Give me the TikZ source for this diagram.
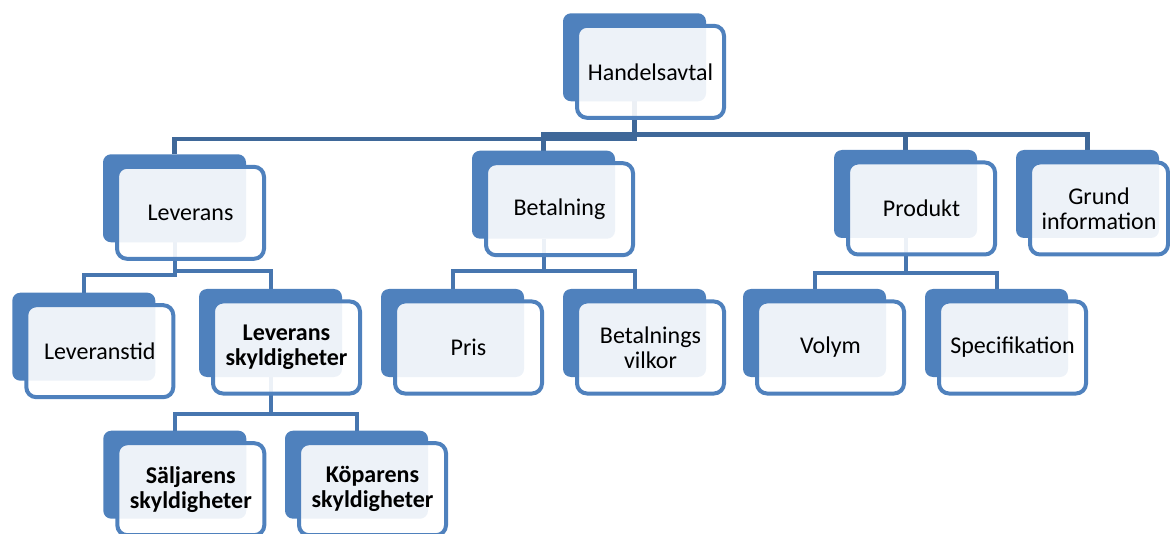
\documentclass[tikz,border=0pt]{standalone}
\usepackage{fontspec}
\setmainfont{Carlito}
\usetikzlibrary{backgrounds}
\definecolor{sablue}{HTML}{4F81BD}
\definecolor{conntop}{HTML}{3F6899}
\definecolor{connlow}{HTML}{4776AF}
\tikzset{
  backbox/.style={fill=sablue, draw=none, rounded corners=6pt,
    minimum width=143*0.75pt, minimum height=88*0.75pt, inner sep=0pt, outer sep=0pt},
  frontbox/.style={fill=white, fill opacity=0.9, text opacity=1, draw=sablue,
    line width=3pt, rounded corners=7.5pt,
    minimum width=147*0.75pt, minimum height=92*0.75pt, inner sep=0pt, outer sep=0pt,
    align=center, font=\fontsize{18}{18.75}\selectfont, text=black},
  boldtext/.style={font=\fontsize{18}{18.75}\selectfont\bfseries},
  connlowline/.style={draw=connlow, line width=3pt},
  conntopline/.style={draw=conntop, line width=3.3pt},
}
\begin{document}
\begin{tikzpicture}[x=0.75pt,y=-0.75pt]
\useasboundingbox (0,0) rectangle (1170,534);
\clip (0,0) rectangle (1170,534);
% level 0
\node[backbox] (H-b) at (634.5,57.3) {};
\node[frontbox] (H) at (650.5,71.8) {Handelsavtal};
% level 1
\node[backbox] (Lev-b) at (174.5,198.3) {};
\node[frontbox] (Lev) at (190.5,212.8) {Leverans};
\node[backbox] (Bet-b) at (543.5,194.7) {};
\node[frontbox] (Bet) at (559.5,209.2) {Betalning};
\node[backbox] (Prod-b) at (905.5,194) {};
\node[frontbox] (Prod) at (921.5,208.5) {Produkt};
\node[backbox] (Grund-b) at (1087.5,194) {};
\node[frontbox, minimum width=138*0.75pt] (Grund) at (1099,208.5) {Grund\\information};
% level 2
\node[backbox] (Levtid-b) at (83.8,336.7) {};
\node[frontbox] (Levtid) at (99.8,351.2) {Leveranstid};
\node[backbox] (LevSky-b) at (270.5,333) {};
\node[frontbox, boldtext] (LevSky) at (286.5,347.5) {Leverans\\skyldigheter};
\node[backbox] (Pris-b) at (452.5,333) {};
\node[frontbox] (Pris) at (468.5,347.5) {Pris};
\node[backbox] (BetV-b) at (634.5,333) {};
\node[frontbox] (BetV) at (650.5,347.5) {Betalnings\\vilkor};
\node[backbox] (Vol-b) at (814.5,333) {};
\node[frontbox] (Vol) at (830.5,347.5) {Volym};
\node[backbox] (Spec-b) at (996.5,333) {};
\node[frontbox] (Spec) at (1012.5,347.5) {Specifikation};
% level 3
\node[backbox] (Salj-b) at (174.8,474.7) {};
\node[frontbox, boldtext] (Salj) at (190.8,489.2) {Säljarens\\skyldigheter};
\node[backbox] (Kop-b) at (356.5,474.7) {};
\node[frontbox, boldtext] (Kop) at (372.5,489.2) {Köparens\\skyldigheter};
% connectors
\begin{scope}[on background layer]
\draw[conntopline] (H-b.south) -- (H-b.south |- 0,139) -| (Lev-b.north);
\draw[conntopline] (H-b.south) -- (H-b.south |- 0,134.5) -| (Bet-b.north);
\draw[conntopline] (H-b.south) -- (H-b.south |- 0,134.5) -| (Prod-b.north);
\draw[conntopline] (H-b.south) -- (H-b.south |- 0,134.5) -| (Grund-b.north);
\draw[connlowline] (Lev-b.south) -- (Lev-b.south |- 0,275.3) -| (Levtid-b.north);
\draw[connlowline] (Lev-b.south) -- (Lev-b.south |- 0,271.3) -| (LevSky-b.north);
\draw[connlowline] (Bet-b.south) -- (Bet-b.south |- 0,271) -| (Pris-b.north);
\draw[connlowline] (Bet-b.south) -- (Bet-b.south |- 0,271) -| (BetV-b.north);
\draw[connlowline] (Prod-b.south) -- (Prod-b.south |- 0,273) -| (Vol-b.north);
\draw[connlowline] (Prod-b.south) -- (Prod-b.south |- 0,273) -| (Spec-b.north);
\draw[connlowline] (LevSky-b.south) -- (LevSky-b.south |- 0,414) -| (Salj-b.north);
\draw[connlowline] (LevSky-b.south) -- (LevSky-b.south |- 0,414) -| (Kop-b.north);
\end{scope}
\end{tikzpicture}
\end{document}
